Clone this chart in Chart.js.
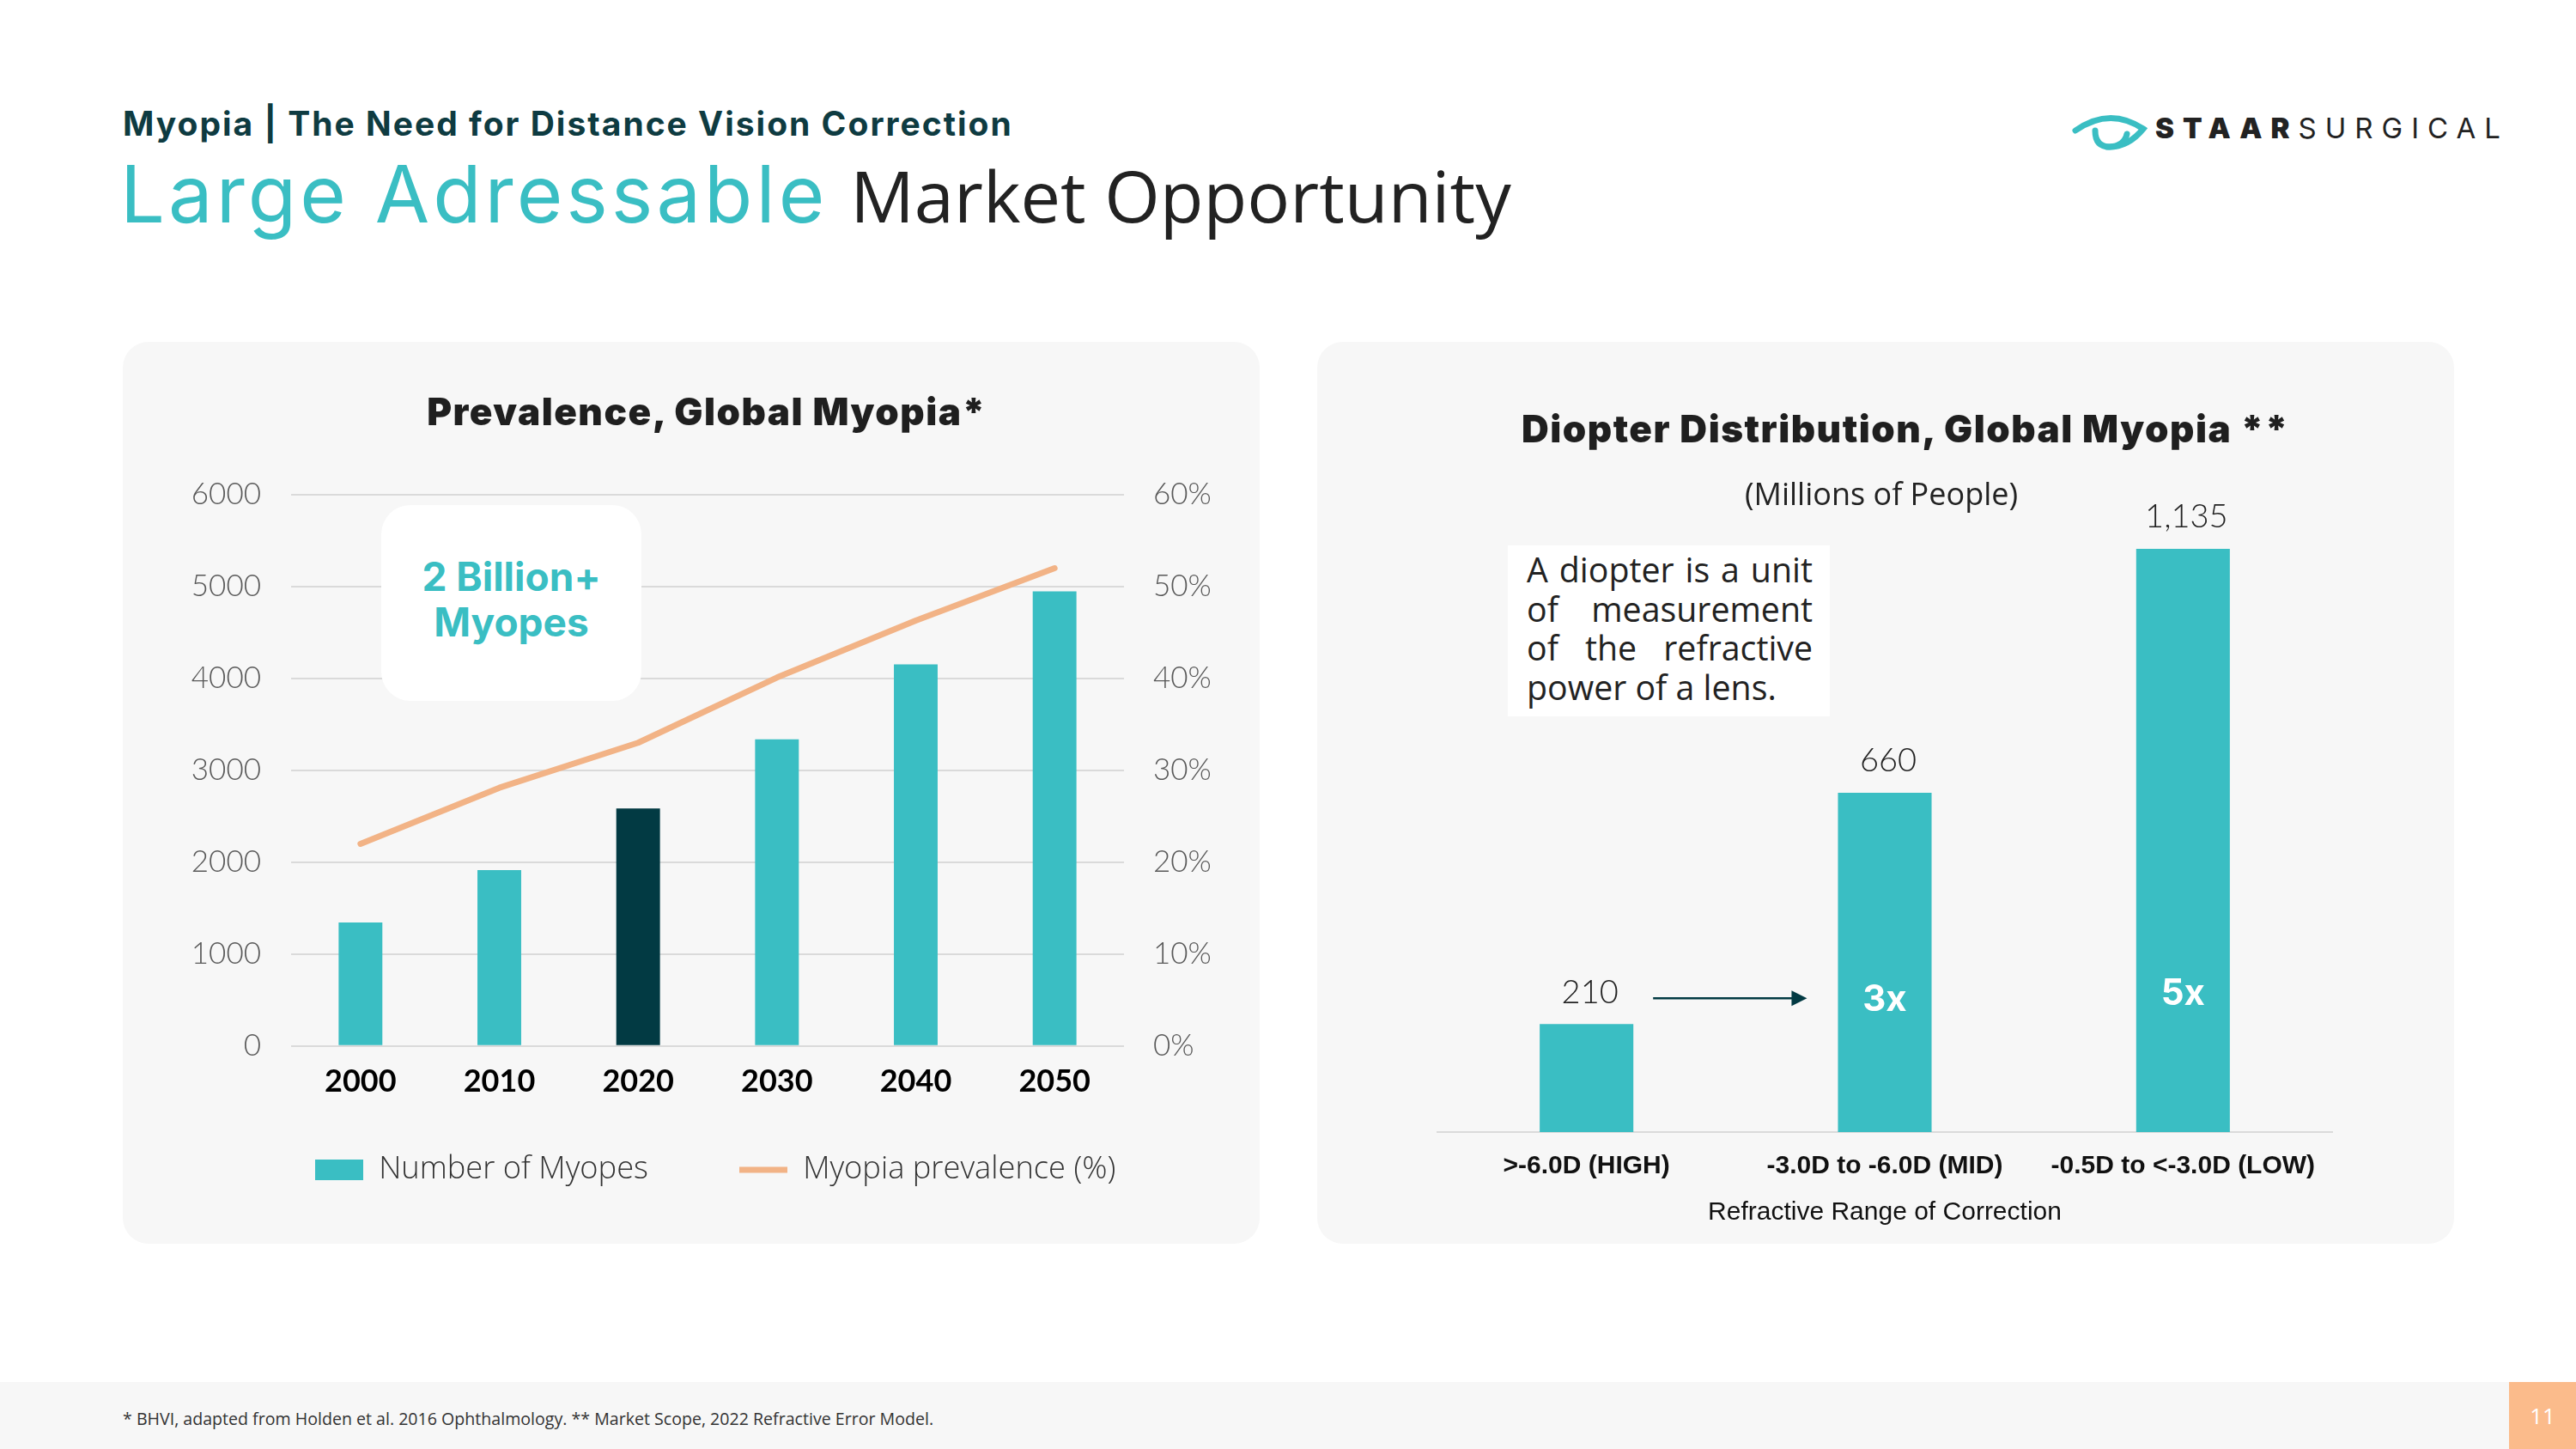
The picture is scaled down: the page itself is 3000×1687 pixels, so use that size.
<!DOCTYPE html>
<html>
<head>
<meta charset="utf-8">
<title>Large Adressable Market Opportunity</title>
<script src="https://cdn.jsdelivr.net/npm/chart.js@4.4.0/dist/chart.umd.min.js"></script>
<style>
  html, body { margin: 0; padding: 0; background: #fff; }
  body { width: 3000px; height: 1687px; position: relative; overflow: hidden; font-family: Inter, Lato, sans-serif; }
  .abs { position: absolute; white-space: nowrap; }
  #kicker { left: 143px; top: 124px; font-size: 39px; font-weight: 700; color: #0e3b41; line-height: 1; letter-spacing: 2px; }
  #headline { left: 140px; top: 180px; font-size: 92px; line-height: 1; }
  #headline .teal { color: #3abec3; font-family: Inter, sans-serif; letter-spacing: 4px; }
  #headline .dark { color: #222; font-family: 'Open Sans', sans-serif; font-size: 83px; }
  .panel { position: absolute; top: 398px; width: 1324px; height: 1050px; background: #f7f7f7; border-radius: 30px; }
  .panel canvas { position: absolute; left: 0; top: 0; }
  .ptitle { position: absolute; width: 1200px; text-align: center; font-weight: 900; font-size: 44px; letter-spacing: 1.5px; color: #1f1f1f; line-height: 1; }
  #sub { position: absolute; width: 800px; text-align: center; left: 1791px; top: 553px; font-family: 'Open Sans', sans-serif; font-size: 36px; color: #222; line-height: 1.2; }
  #bubble { position: absolute; left: 444px; top: 588px; width: 303px; height: 228px; background: #fff; border-radius: 34px;
            color: #3abec3; font-weight: 700; font-size: 46px; text-align: center; line-height: 53px; box-sizing: border-box; padding-top: 57px; }
  #note { position: absolute; left: 1756px; top: 635px; width: 375px; height: 199px; background: #fff; box-sizing: border-box;
          padding: 6px 20px 0 22px; font-family: 'Open Sans', sans-serif; font-size: 39.3px; color: #222; line-height: 45.5px; }
  #note div { text-align: justify; text-align-last: justify; }
  #note div.last { text-align-last: left; }
  #logo { position: absolute; left: 2410px; top: 128px; }
  #brand { position: absolute; left: 2510px; top: 133px; font-size: 33px; line-height: 1; color: #222; letter-spacing: 10px; }
  #brand b { font-weight: 900; }
  #foot { position: absolute; left: 0; top: 1609px; width: 2922px; height: 78px; background: #f7f7f7; }
  #foottext { position: absolute; left: 143px; top: 1638px; font-family: 'Open Sans', sans-serif; font-size: 19.6px; color: #333; }
  #page { position: absolute; left: 2922px; top: 1609px; width: 78px; height: 78px; background: #fbbb8b; color: #fff;
          font-family: 'Open Sans', sans-serif; font-size: 26px; text-align: center; line-height: 78px; }
</style>
</head>
<body>
<div id="kicker" class="abs">Myopia | The Need for Distance Vision Correction</div>
<div id="headline" class="abs"><span class="teal">Large Adressable</span> <span class="dark">Market Opportunity</span></div>

<svg id="logo" width="95" height="50" viewBox="2410 128 95 50">
  <path d="M2417 152 Q2457 124 2496 150 Q2478 172 2454 171" fill="none" stroke="#3abec3" stroke-width="7" stroke-linecap="round"/>
  <path d="M2440 152 Q2440 171 2457 171 Q2474 170 2477 156" fill="none" stroke="#3abec3" stroke-width="7" stroke-linecap="round"/>
</svg>
<div id="brand" class="abs"><b>STAAR</b>SURGICAL</div>

<div class="panel" style="left:143px"><canvas id="prevChart" width="1324" height="1050"></canvas></div>
<div class="panel" style="left:1534px"><canvas id="diopterChart" width="1324" height="1050"></canvas></div>

<div class="ptitle" style="left:223px; top:457px">Prevalence, Global Myopia*</div>
<div class="ptitle" style="left:1619px; top:477px">Diopter Distribution, Global Myopia **</div>
<div id="sub">(Millions of People)</div>

<div id="bubble">2 Billion+<br>Myopes</div>
<div id="note">
  <div>A diopter is a unit</div>
  <div>of measurement</div>
  <div>of the refractive</div>
  <div class="last">power of a lens.</div>
</div>

<div id="foot"></div>
<div id="foottext" class="abs">* BHVI, adapted from Holden et al. 2016 Ophthalmology. ** Market Scope, 2022 Refractive Error Model.</div>
<div id="page">11</div>

<script>
// ---- data: prevalence chart
const years = ['2000', '2010', '2020', '2030', '2040', '2050'];
const myopes = [1343, 1914, 2584, 3337, 4153, 4947];
const prevalence = [22.0, 28.1, 33.0, 40.1, 46.3, 52.0];
const highlightYear = '2020';
const countTicks = [0, 1000, 2000, 3000, 4000, 5000, 6000];
const pctTicks = [0, 10, 20, 30, 40, 50, 60];

// ---- data: diopter chart
const ranges = ['>-6.0D (HIGH)', '-3.0D to -6.0D (MID)', '-0.5D to <-3.0D (LOW)'];
const people = [210, 660, 1135];

const TEAL = '#3abec3';
const DARK = '#023a43';
const ORANGE = '#f2b386';
const GRID = '#dadada';

Chart.defaults.font.family = "Lato, 'Open Sans', sans-serif";
Chart.defaults.color = '#595959';

// legend sizing so the two items sit where they do on the slide
const legendFamily = "'Open Sans', Lato, sans-serif";
const measure = (size, s) => {
    const c = document.createElement('canvas').getContext('2d');
    c.font = '300 ' + size + 'px ' + legendFamily;
    return c.measureText(s).width;
};
let legendSize = 36 * 314 / measure(36, 'Number of Myopes');
legendSize = Math.max(30, Math.min(40, legendSize));
const w1 = measure(legendSize, 'Number of Myopes');
const w2 = measure(legendSize, 'Myopia prevalence (%)');
const legPad = 438 - legendSize / 2 - w1;
const lineW = 2 * (56 + legendSize / 2 + legPad) + w1 + w2;
const padLeft = Math.max(0, 448 - legPad - 1324 + lineW);
const padBottom = 76 - legendSize / 2;
const xAxisH = Math.max(0, 1050 - padBottom - (legendSize + legPad + 10) - 819.7);
const yearFont = 36;

const prevChart = new Chart(document.getElementById('prevChart'), {
    type: 'bar',
    data: {
        labels: years,
        datasets: [{
            label: 'Number of Myopes',
            data: myopes,
            backgroundColor: (ctx) => years[ctx.dataIndex] === highlightYear ? DARK : TEAL,
            barPercentage: 0.315,
            categoryPercentage: 1,
            yAxisID: 'y'
        }, {
            type: 'line',
            label: 'Myopia prevalence (%)',
            data: prevalence,
            borderColor: ORANGE,
            backgroundColor: ORANGE,
            borderWidth: 7,
            borderCapStyle: 'round',
            borderJoinStyle: 'round',
            pointRadius: 0,
            tension: 0,
            yAxisID: 'y1'
        }]
    },
    options: {
        responsive: false,
        animation: false,
        layout: { padding: { left: padLeft, right: 0, top: 178, bottom: padBottom } },
        plugins: {
            tooltip: { enabled: false },
            legend: {
                position: 'bottom',
                labels: {
                    usePointStyle: true,
                    pointStyleWidth: 56,
                    boxHeight: 24,
                    padding: legPad,
                    color: '#333',
                    font: { family: legendFamily, size: legendSize, weight: '300' },
                    generateLabels: (chart) => {
                        const items = Chart.defaults.plugins.legend.labels.generateLabels(chart);
                        items.forEach((it, i) => {
                            it.pointStyle = i === 0 ? 'rect' : 'line';
                        });
                        return items;
                    }
                }
            }
        },
        scales: {
            x: {
                grid: { display: false, drawTicks: false },
                border: { display: false },
                // mirror keeps the year labels from being clipped to the thin axis box
                ticks: { color: '#000', mirror: true, autoSkip: false, padding: -(20 + yearFont * 1.2),
                         font: { size: yearFont, weight: 'bold' } },
                afterFit: (s) => { s.height = xAxisH; }
            },
            y: {
                min: countTicks[0], max: countTicks[countTicks.length - 1],
                afterBuildTicks: (s) => { s.ticks = countTicks.map(v => ({ value: v })); },
                grid: { color: GRID, lineWidth: 2, drawTicks: false },
                border: { display: false },
                ticks: { padding: 35, font: { size: 35, weight: '300' }, callback: (v) => String(v) },
                afterFit: (s) => { s.width = 196 - padLeft; }
            },
            y1: {
                position: 'right',
                min: pctTicks[0], max: pctTicks[pctTicks.length - 1],
                afterBuildTicks: (s) => { s.ticks = pctTicks.map(v => ({ value: v })); },
                grid: { display: false, drawTicks: false },
                border: { display: false },
                ticks: { padding: 34, font: { size: 35, weight: '300' }, callback: (v) => v + '%' },
                afterFit: (s) => { s.width = 158; }
            }
        }
    }
});

// labels above bars, multipliers inside, and the arrow
const barNotes = {
    id: 'barNotes',
    afterDatasetsDraw(chart) {
        const ctx = chart.ctx;
        const bars = chart.getDatasetMeta(0).data;
        ctx.save();
        ctx.textAlign = 'center';
        ctx.textBaseline = 'middle';
        ctx.font = "300 38px Lato, 'Open Sans', sans-serif";
        ctx.fillStyle = '#222';
        bars.forEach((b, i) => {
            ctx.fillText(people[i].toLocaleString('en-US'), b.x + 4, b.y - 37);
        });
        const rowY = bars[0].y - 30;
        ctx.font = "bold 42px Inter, Lato, sans-serif";
        ctx.fillStyle = '#fff';
        bars.forEach((b, i) => {
            if (i === 0) return;
            ctx.fillText(Math.round(people[i] / people[0]) + 'x', b.x, rowY + 2 - (i === 2 ? 7 : 0));
        });
        // arrow from the small bar to the middle one
        const x0 = bars[0].x + bars[0].width / 2 + 23;
        const x1 = bars[1].x - bars[1].width / 2 - 36;
        ctx.strokeStyle = DARK;
        ctx.fillStyle = DARK;
        ctx.lineWidth = 2.5;
        ctx.beginPath();
        ctx.moveTo(x0, rowY);
        ctx.lineTo(x1 - 14, rowY);
        ctx.stroke();
        ctx.beginPath();
        ctx.moveTo(x1, rowY);
        ctx.lineTo(x1 - 18, rowY - 9);
        ctx.lineTo(x1 - 18, rowY + 9);
        ctx.closePath();
        ctx.fill();
        ctx.restore();
    }
};

const diopterChart = new Chart(document.getElementById('diopterChart'), {
    type: 'bar',
    data: {
        labels: ranges,
        datasets: [{
            label: 'Millions of People',
            data: people,
            backgroundColor: TEAL,
            barPercentage: 0.314,
            categoryPercentage: 1
        }]
    },
    options: {
        responsive: false,
        animation: false,
        layout: { padding: { left: 140, right: 142, top: 202, bottom: 18 } },
        plugins: { legend: { display: false }, tooltip: { enabled: false } },
        scales: {
            x: {
                grid: { display: false, drawTicks: false },
                border: { display: true, color: GRID, width: 2 },
                ticks: { color: '#111', padding: 22, font: { family: "'Liberation Sans', Arial, sans-serif", size: 30, weight: 'bold' } },
                title: {
                    display: true,
                    text: 'Refractive Range of Correction',
                    color: '#111',
                    padding: 0,
                    font: { family: "'Liberation Sans', Arial, sans-serif", size: 30 }
                },
                afterFit: (s) => { s.height = 112; }
            },
            y: { display: false, min: 0, max: 1200 }
        }
    },
    plugins: [barNotes]
});
</script>
</body>
</html>
